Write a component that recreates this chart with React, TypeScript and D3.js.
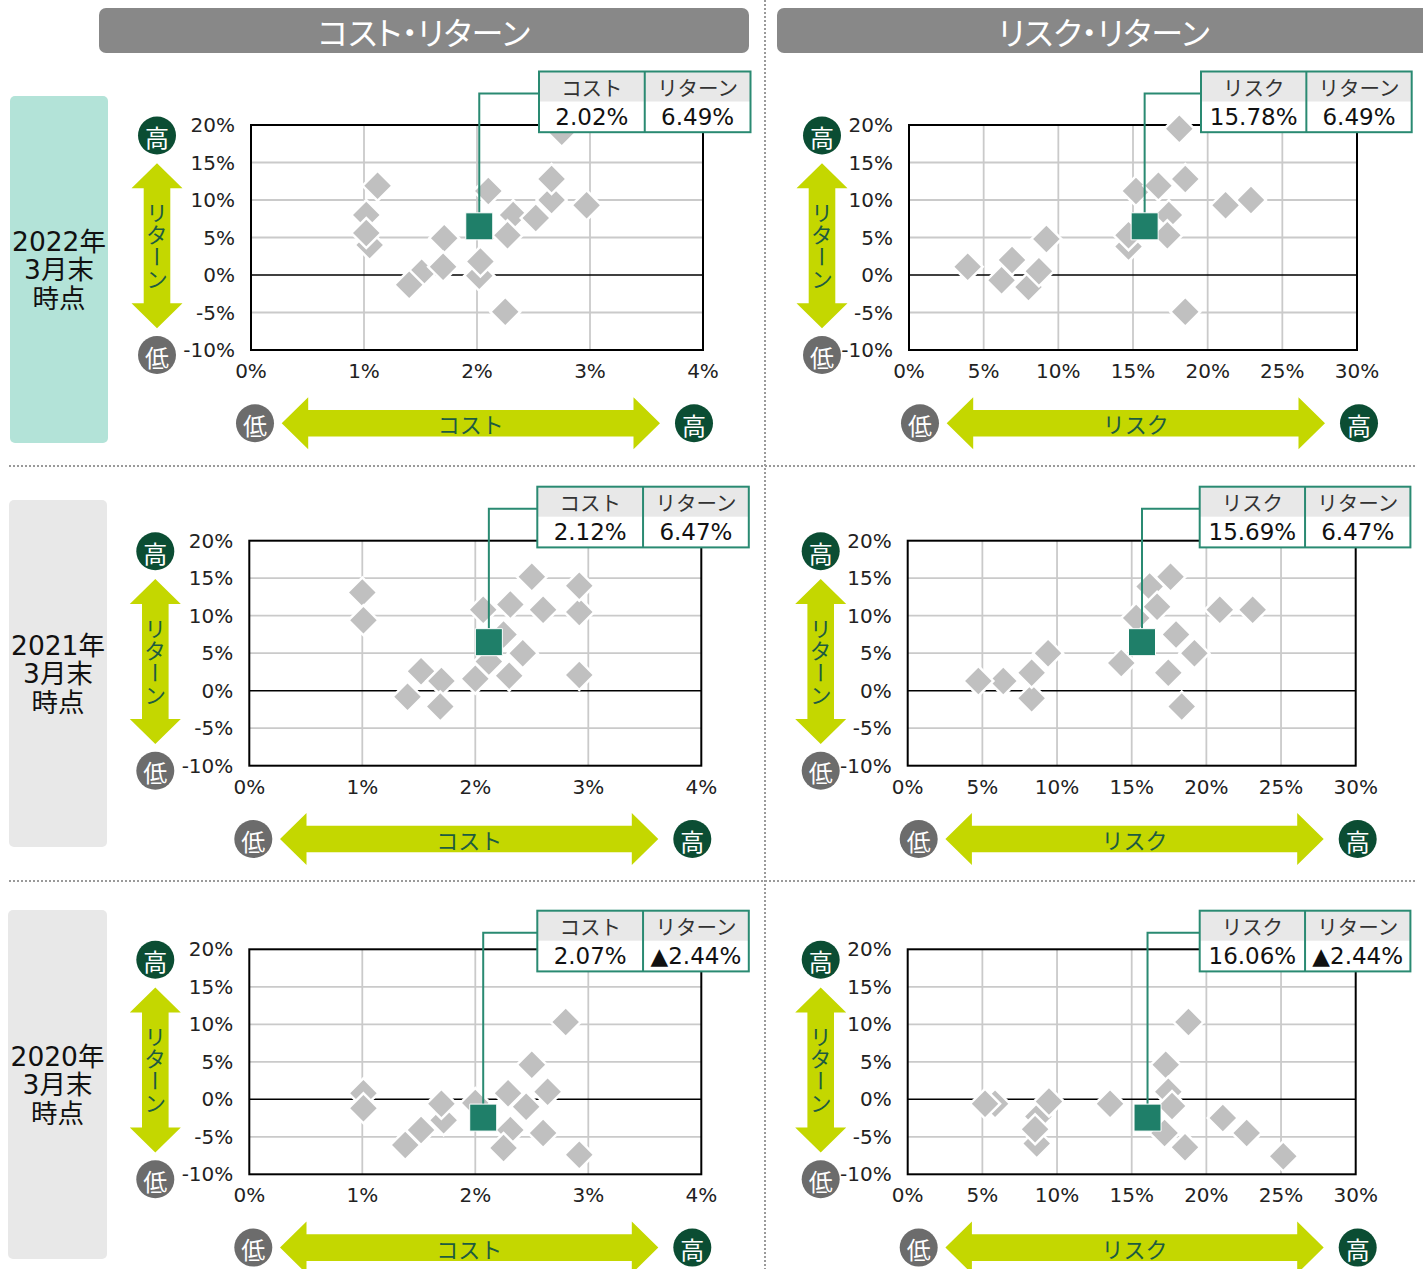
import React from "react";
import * as d3 from "d3";

// Period labels for each row
const periodLabels = [
  ["2022年", "3月末", "時点"],
  ["2021年", "3月末", "時点"],
  ["2020年", "3月末", "時点"],
];

// Highlighted fund values per period (%)
const fundCost = [2.02, 2.12, 2.07];
const fundRisk = [15.78, 15.69, 16.06];
const fundReturn = [6.49, 6.47, -2.44];

// Peer funds: [cost %, return %]
const costPoints2022: [number, number][] = [
  [1.02, 8.0], [1.05, 4.0], [1.02, 5.6], [1.12, 11.9], [1.51, 0.3], [1.40, -1.3],
  [1.71, 4.9], [1.70, 1.1], [2.10, 11.2], [2.02, -0.1], [2.03, 1.8], [2.25, -4.9],
  [2.32, 8.0], [2.27, 5.3], [2.66, 10.0], [2.52, 7.6], [2.66, 12.8], [2.97, 9.3], [2.75, 19.1],
];
const costPoints2021: [number, number][] = [
  [1.00, 13.1], [1.01, 9.4], [2.07, 10.8], [2.31, 11.5], [2.50, 15.2], [2.60, 10.8],
  [2.92, 10.5], [2.92, 14.0], [2.25, 7.5], [2.12, 3.9], [2.42, 5.0], [2.30, 2.0],
  [2.00, 1.6], [2.92, 2.1], [1.52, 2.6], [1.70, 1.3], [1.40, -0.8], [1.69, -2.1],
];
const costPoints2020: [number, number][] = [
  [1.01, 0.8], [1.01, -1.2], [1.72, -2.8], [1.70, -0.6], [1.52, -4.1], [1.38, -6.1],
  [2.00, -0.5], [2.29, 0.8], [2.50, 4.6], [2.31, -4.1], [2.64, 1.0], [2.45, -1.0],
  [2.60, -4.5], [2.25, -6.5], [2.80, 10.3], [2.92, -7.4],
];

// Peer funds: [risk %, return %]
const riskPoints2022: [number, number][] = [
  [3.93, 1.1], [6.2, -0.7], [8.0, -1.6], [6.9, 2.0], [8.7, 0.5], [9.2, 4.8],
  [14.7, 3.8], [14.7, 5.3], [15.2, 11.2], [16.7, 11.9], [18.5, 12.8], [17.4, 8.0],
  [17.3, 5.3], [18.1, 19.5], [21.2, 9.3], [22.9, 10.0], [18.5, -4.9],
];
const riskPoints2021: [number, number][] = [
  [6.4, 1.3], [4.73, 1.3], [8.3, -1.0], [8.3, 2.4], [9.4, 5.0], [14.3, 3.7],
  [15.3, 9.7], [16.2, 13.9], [16.7, 11.2], [17.6, 15.2], [17.97, 7.5], [19.2, 5.0],
  [17.45, 2.4], [18.35, -2.1], [20.9, 10.8], [23.1, 10.8],
];
const riskPoints2020: [number, number][] = [
  [5.85, -0.6], [5.18, -0.6], [8.75, -2.3], [8.64, -5.9], [9.46, -0.3], [8.53, -4.0],
  [13.55, -0.6], [17.28, 4.6], [18.8, 10.3], [17.45, 1.0], [17.7, -0.9], [17.2, -4.5],
  [18.57, -6.4], [21.1, -2.5], [22.7, -4.5], [25.15, -7.6],
];

const costTicks = [0, 1, 2, 3, 4];
const riskTicks = [0, 5, 10, 15, 20, 25, 30];
const returnTicks = [-10, -5, 0, 5, 10, 15, 20];

const costPoints = [costPoints2022, costPoints2021, costPoints2020];
const riskPoints = [riskPoints2022, riskPoints2021, riskPoints2020];

// Layout
const W = 1423;
const H = 1269;
const rowPlotTop = [125, 540.7, 949.3];
const rowTableTop = [71.5, 486.7, 910.7];
const rowPlotLeft = [
  [251, 249.3, 249.3],
  [909, 907.7, 907.7],
];
const colPlotWidth = [452, 448];
const colArrowShift = [0, 7];
const colYArrowOffset = [-94, -87];
const colTableOffset = [288, 292];
const colTableWidth = [211.5, 210.7];
const plotH = 225;
const labelBoxes = [
  { x: 10, y: 96, w: 98, h: 347, fill: "#b3e3d8" },
  { x: 9, y: 500, w: 98, h: 347, fill: "#e8e8e8" },
  { x: 8, y: 910, w: 99, h: 349, fill: "#e8e8e8" },
];

const LATIN = "'DejaVu Sans', 'Noto Sans CJK JP', sans-serif";
const CJK = "'Noto Sans CJK JP', 'DejaVu Sans', sans-serif";
const LIME = "#c4d700";
const DARK_GREEN = "#0b4d33";
const ARROW_TEXT = "#1d5c40";
const TEAL = "#1f7f69";
const TEAL_LINE = "#2a8a72";
const LOW_GRAY = "#6c6c6c";

const diamondPath = d3.symbol(d3.symbolSquare, 450)() as string;
const squarePath = d3.symbol(d3.symbolSquare, 27 * 27)() as string;

const fmtPct = (v: number) => (v < 0 ? "▲" : "") + Math.abs(v).toFixed(2) + "%";

function doubleArrowH(x1: number, x2: number, cy: number) {
  const sh = 13.3, hh = 26, hl = 26.5;
  return `M${x1},${cy} L${x1 + hl},${cy - hh} L${x1 + hl},${cy - sh} L${x2 - hl},${cy - sh} L${x2 - hl},${cy - hh} L${x2},${cy} L${x2 - hl},${cy + hh} L${x2 - hl},${cy + sh} L${x1 + hl},${cy + sh} L${x1 + hl},${cy + hh} Z`;
}
function doubleArrowV(cx: number, y1: number, y2: number) {
  const sw = 13.3, hw = 25.5, hl = 25;
  return `M${cx},${y1} L${cx + hw},${y1 + hl} L${cx + sw},${y1 + hl} L${cx + sw},${y2 - hl} L${cx + hw},${y2 - hl} L${cx},${y2} L${cx - hw},${y2 - hl} L${cx - sw},${y2 - hl} L${cx - sw},${y1 + hl} L${cx - hw},${y1 + hl} Z`;
}

function Badge({ x, y, text, fill }: { x: number; y: number; text: string; fill: string }) {
  return (
    <g>
      <circle cx={x} cy={y} r={19} fill={fill} />
      <text x={x} y={y + 1} textAnchor="middle" dominantBaseline="central" fill="#fff" fontFamily={CJK} fontSize={24}>
        {text}
      </text>
    </g>
  );
}

function Title({ x, label }: { x: number; label: string }) {
  return (
    <text
      x={x}
      y={31}
      textAnchor="middle"
      dominantBaseline="central"
      fontFamily={CJK}
      fontSize={32}
      fill="#fff"
      style={{ fontFeatureSettings: '"palt"' } as React.CSSProperties}
    >
      {label}
    </text>
  );
}

type PanelProps = {
  row: number;
  col: number;
  xMax: number;
  xTicks: number[];
  points: [number, number][];
  fx: number;
  fy: number;
  xName: string;
};

function Panel({ row, col, xMax, xTicks, points, fx, fy, xName }: PanelProps) {
  const left = rowPlotLeft[col][row];
  const top = rowPlotTop[row];
  const w = colPlotWidth[col];
  const x = d3.scaleLinear().domain([0, xMax]).range([left, left + w]);
  const y = d3.scaleLinear().domain([-10, 20]).range([top + plotH, top]);
  const bottom = top + plotH;

  const tableX = left + colTableOffset[col];
  const tableY = rowTableTop[row];
  const tw = colTableWidth[col];
  const th = 60.7;
  const divX = tableX + tw / 2;

  const fxp = x(fx);
  const fyp = y(fy);
  const connY = tableY + 22;

  const ax = left + colYArrowOffset[col];
  const shift = colArrowShift[col];
  const arrowY = bottom + 73.3;
  const hx1 = left + 30.7 + shift;
  const hx2 = left + 409 + shift;

  const vMid = (top + 38.3 + top + 203.3) / 2;

  return (
    <g>
      {/* gridlines */}
      {xTicks.slice(1, -1).map((t) => (
        <line key={"gx" + t} x1={x(t)} x2={x(t)} y1={top} y2={bottom} stroke="#cacaca" strokeWidth={1.8} />
      ))}
      {returnTicks.slice(1, -1).filter((t) => t !== 0).map((t) => (
        <line key={"gy" + t} x1={left} x2={left + w} y1={y(t)} y2={y(t)} stroke="#cacaca" strokeWidth={1.8} />
      ))}
      <rect x={left} y={top} width={w} height={plotH} fill="none" stroke="#000" strokeWidth={2} />
      <line x1={left} x2={left + w} y1={y(0)} y2={y(0)} stroke="#000" strokeWidth={1.6} />

      {/* tick labels */}
      {returnTicks.map((t) => (
        <text key={"ty" + t} x={left - 16} y={y(t)} textAnchor="end" dominantBaseline="central" fontFamily={LATIN} fontSize={20} fill="#222">
          {t + "%"}
        </text>
      ))}
      {xTicks.map((t) => (
        <text key={"tx" + t} x={x(t)} y={bottom + 21} textAnchor="middle" dominantBaseline="central" fontFamily={LATIN} fontSize={20} fill="#222">
          {t + "%"}
        </text>
      ))}

      {/* peer funds */}
      {points.map((p, i) => (
        <path key={"p" + i} d={diamondPath} transform={`translate(${x(p[0])},${y(p[1])}) rotate(45)`} fill="#c0c0c0" stroke="#fff" strokeWidth={2.5} />
      ))}

      {/* highlighted fund */}
      <path d={`M${tableX},${connY} H${fxp} V${fyp}`} fill="none" stroke={TEAL_LINE} strokeWidth={2} />
      <path d={squarePath} transform={`translate(${fxp},${fyp})`} fill={TEAL} stroke="#fff" strokeWidth={1} />

      {/* value table */}
      <rect x={tableX} y={tableY} width={tw} height={th} fill="#fff" />
      <rect x={tableX} y={tableY} width={tw} height={30} fill="#e8e8e8" />
      <rect x={tableX} y={tableY} width={tw} height={th} fill="none" stroke={TEAL_LINE} strokeWidth={2} />
      <line x1={divX} x2={divX} y1={tableY} y2={tableY + th} stroke={TEAL_LINE} strokeWidth={2} />
      <text x={(tableX + divX) / 2} y={tableY + 15} textAnchor="middle" dominantBaseline="central" fontFamily={CJK} fontSize={20.5} fill="#333">
        {xName}
      </text>
      <text x={(divX + tableX + tw) / 2} y={tableY + 15} textAnchor="middle" dominantBaseline="central" fontFamily={CJK} fontSize={20.5} fill="#333">
        リターン
      </text>
      <text x={(tableX + divX) / 2} y={tableY + 45.5} textAnchor="middle" dominantBaseline="central" fontFamily={LATIN} fontSize={23} fill="#111">
        {fmtPct(fx)}
      </text>
      <text x={(divX + tableX + tw) / 2} y={tableY + 45.5} textAnchor="middle" dominantBaseline="central" fontFamily={LATIN} fontSize={23} fill="#111">
        {fmtPct(fy)}
      </text>

      {/* return axis arrow */}
      <Badge x={ax} y={top + 10.5} text="高" fill={DARK_GREEN} />
      <path d={doubleArrowV(ax, top + 38.3, top + 203.3)} fill={LIME} />
      <text
        x={ax}
        y={vMid}
        textAnchor="middle"
        fontFamily={CJK}
        fontSize={22}
        fill={ARROW_TEXT}
        style={{ writingMode: "vertical-rl", textOrientation: "upright" } as React.CSSProperties}
      >
        リターン
      </text>
      <Badge x={ax} y={top + 230} text="低" fill={LOW_GRAY} />

      {/* horizontal axis arrow */}
      <Badge x={left + 4 + shift} y={arrowY} text="低" fill={LOW_GRAY} />
      <path d={doubleArrowH(hx1, hx2, arrowY)} fill={LIME} />
      <text x={(hx1 + hx2) / 2} y={arrowY} textAnchor="middle" dominantBaseline="central" fontFamily={CJK} fontSize={22} fill={ARROW_TEXT}>
        {xName}
      </text>
      <Badge x={left + 443 + shift} y={arrowY} text="高" fill={DARK_GREEN} />
    </g>
  );
}

export default function App() {
  React.useEffect(() => {
    document.body.style.margin = "0";
  }, []);
  return (
    <svg width={W} height={H} style={{ position: "absolute", left: 0, top: 0, background: "#fff" }}>
      <rect x={0} y={0} width={W} height={H} fill="#fff" />

      {/* section headers */}
      <rect x={99} y={8} width={650} height={45} rx={7} fill="#888888" />
      <Title x={424} label="コスト・リターン" />
      <rect x={777} y={8} width={660} height={45} rx={7} fill="#888888" />
      <Title x={1104} label="リスク・リターン" />

      {/* separators */}
      <line x1={765} x2={765} y1={0} y2={H} stroke="#9a9a9a" strokeWidth={2} strokeDasharray="2 2" />
      <line x1={9} x2={1415} y1={466} y2={466} stroke="#9a9a9a" strokeWidth={2} strokeDasharray="2 2" />
      <line x1={9} x2={1415} y1={881} y2={881} stroke="#9a9a9a" strokeWidth={2} strokeDasharray="2 2" />

      {/* period labels */}
      {labelBoxes.map((b, r) => (
        <g key={"lb" + r}>
          <rect x={b.x} y={b.y} width={b.w} height={b.h} rx={5} fill={b.fill} />
          {periodLabels[r].map((line, i) => (
            <text
              key={i}
              x={b.x + b.w / 2}
              y={b.y + b.h / 2 + (i - 1) * 28.5}
              textAnchor="middle"
              dominantBaseline="central"
              fontFamily={LATIN}
              fontSize={26.5}
              fill="#111"
            >
              {line}
            </text>
          ))}
        </g>
      ))}

      {[0, 1, 2].map((r) => (
        <g key={"row" + r}>
          <Panel row={r} col={0} xMax={4} xTicks={costTicks} points={costPoints[r]} fx={fundCost[r]} fy={fundReturn[r]} xName="コスト" />
          <Panel row={r} col={1} xMax={30} xTicks={riskTicks} points={riskPoints[r]} fx={fundRisk[r]} fy={fundReturn[r]} xName="リスク" />
        </g>
      ))}
    </svg>
  );
}
